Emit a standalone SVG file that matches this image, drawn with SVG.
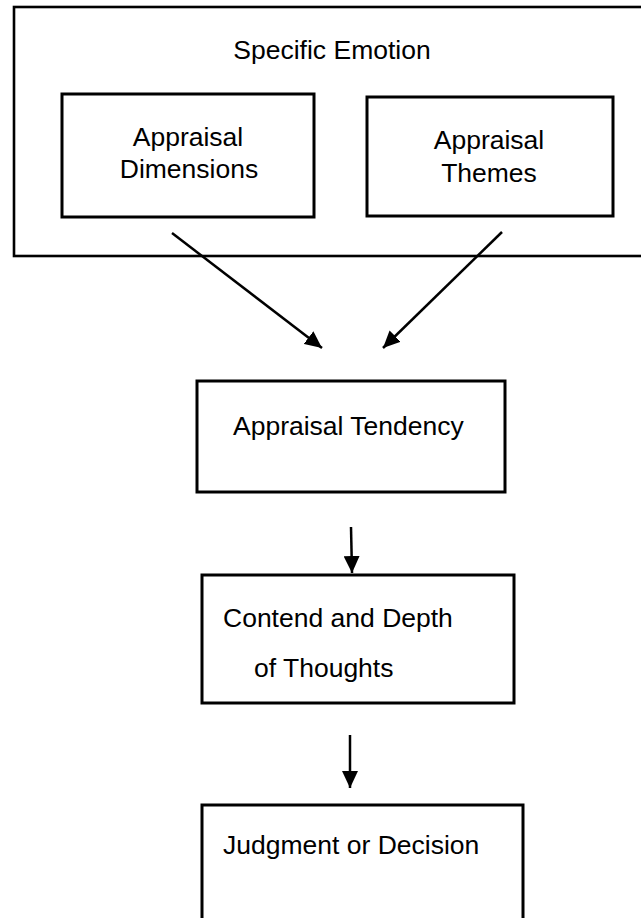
<svg xmlns="http://www.w3.org/2000/svg" width="641" height="918" viewBox="0 0 641 918">
  <style>
    .box { fill: #ffffff; stroke: #000000; stroke-width: 3; }
    .outer { fill: #ffffff; stroke: #000000; stroke-width: 2.6; }
    .lbl { font-family: "Liberation Sans", Arial, sans-serif; font-size: 26.5px; fill: #000000; }
    .mid { text-anchor: middle; }
    .edge { stroke: #000000; stroke-width: 2.5; fill: none; marker-end: url(#head); }
  </style>
  <defs>
    <marker id="head" markerUnits="userSpaceOnUse" markerWidth="18" markerHeight="16" refX="17" refY="8" orient="auto">
      <path d="M0,0 L17,8 L0,16 Z" fill="#000000"/>
    </marker>
  </defs>
  <rect width="641" height="918" fill="#ffffff"/>

  <g id="specific-emotion">
    <rect class="outer" x="14" y="7" width="640" height="249"/>
    <text class="lbl mid" x="332" y="59">Specific Emotion</text>
  </g>

  <g id="appraisal-dimensions">
    <rect class="box" x="62" y="94" width="252" height="123"/>
    <text class="lbl mid" x="188" y="146">Appraisal</text>
    <text class="lbl mid" x="189" y="178">Dimensions</text>
  </g>

  <g id="appraisal-themes">
    <rect class="box" x="367" y="97" width="246" height="119"/>
    <text class="lbl mid" x="489" y="149">Appraisal</text>
    <text class="lbl mid" x="489" y="182">Themes</text>
  </g>

  <g id="appraisal-tendency">
    <rect class="box" x="197" y="381" width="308" height="111"/>
    <text class="lbl" x="233" y="435">Appraisal Tendency</text>
  </g>

  <g id="content-depth">
    <rect class="box" x="202" y="575" width="312" height="128"/>
    <text class="lbl" x="223" y="627">Contend and Depth</text>
    <text class="lbl" x="254" y="677">of Thoughts</text>
  </g>

  <g id="judgment-decision">
    <rect class="box" x="202" y="805" width="321" height="130"/>
    <text class="lbl" x="223" y="854">Judgment or Decision</text>
  </g>

  <g id="connectors">
    <line class="edge" x1="172" y1="233" x2="322" y2="348"/>
    <line class="edge" x1="502" y1="232" x2="383" y2="348"/>
    <line class="edge" x1="351" y1="527" x2="352" y2="573"/>
    <line class="edge" x1="350" y1="735" x2="350" y2="788"/>
  </g>
</svg>
